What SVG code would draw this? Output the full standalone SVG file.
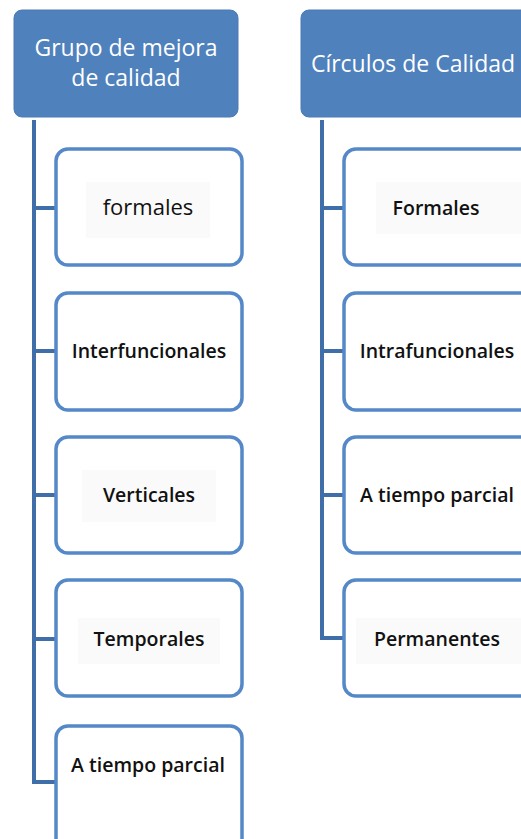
<svg xmlns="http://www.w3.org/2000/svg" width="521" height="839" viewBox="0 0 521 839">
<style>
.hdr{fill:#4f81bd;stroke:#4a7ab5;stroke-width:1}
.box{fill:#fff;stroke:#5588c8;stroke-width:3.5}
.tbg{fill:#fafafa}
.ht{font-family:"Open Sans","Liberation Sans",sans-serif;font-size:23px;fill:#fff;text-anchor:middle}
.t{font-family:"Open Sans","Liberation Sans",sans-serif;font-size:19.5px;font-weight:600;fill:#111;text-anchor:middle}
.tr{font-family:"Open Sans","Liberation Sans",sans-serif;font-size:22px;fill:#111;text-anchor:middle}
.c{fill:none;stroke:#3f6ea8;stroke-width:4}
</style>
<rect width="521" height="839" fill="#fff"/>
<g id="connectors">
<path class="c" d="M34 120V782H56M34 208H56M34 351H56M34 495H56M34 639H56"/>
<path class="c" d="M322 120V638H344M322 208H344M322 351H344M322 495H344"/>
</g>
<g id="hdr-left"><rect class="hdr" x="14" y="10" width="224" height="107" rx="8"/><text class="ht" x="126" y="56">Grupo de mejora</text><text class="ht" x="126" y="86">de calidad</text></g>
<g id="hdr-right"><rect class="hdr" x="301" y="10" width="240" height="107" rx="8"/><text class="ht" x="413" y="72">Círculos de Calidad</text></g>
<g id="l1"><rect class="box" x="56" y="149" width="186" height="116" rx="12"/><rect class="tbg" x="86" y="182" width="124" height="56"/><text class="tr" x="148" y="215">formales</text></g>
<g id="l2"><rect class="box" x="56" y="293" width="186" height="117" rx="12"/><text class="t" x="149" y="358">Interfuncionales</text></g>
<g id="l3"><rect class="box" x="56" y="437" width="186" height="116" rx="12"/><rect class="tbg" x="82" y="470" width="134" height="52"/><text class="t" x="149" y="502">Verticales</text></g>
<g id="l4"><rect class="box" x="56" y="580" width="186" height="116" rx="12"/><rect class="tbg" x="78" y="618" width="142" height="46"/><text class="t" x="149" y="646">Temporales</text></g>
<g id="l5"><rect class="box" x="56" y="726" width="186" height="130" rx="12"/><text class="t" x="148" y="772">A tiempo parcial</text></g>
<g id="r1"><rect class="box" x="344" y="149" width="200" height="116" rx="12"/><rect class="tbg" x="376" y="182" width="145" height="52"/><text class="t" x="436" y="215">Formales</text></g>
<g id="r2"><rect class="box" x="344" y="293" width="200" height="117" rx="12"/><text class="t" x="437" y="358">Intrafuncionales</text></g>
<g id="r3"><rect class="box" x="344" y="437" width="200" height="116" rx="12"/><text class="t" x="437" y="502">A tiempo parcial</text></g>
<g id="r4"><rect class="box" x="344" y="580" width="200" height="116" rx="12"/><rect class="tbg" x="356" y="618" width="165" height="46"/><text class="t" x="437" y="646">Permanentes</text></g>
</svg>
